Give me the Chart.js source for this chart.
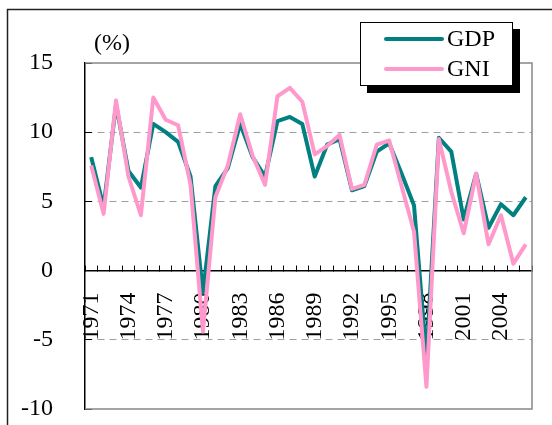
<!DOCTYPE html>
<html>
<head>
<meta charset="utf-8">
<script src="https://cdn.jsdelivr.net/npm/chart.js@4.4.1/dist/chart.umd.min.js"></script>
<style>
  body { margin: 0; background: #fff; }
  canvas { display: block; }
</style>
</head>
<body>
<canvas id="myChart" width="552" height="425"></canvas>
<script>
const years = [
  "1971", "1972", "1973", "1974", "1975", "1976", "1977", "1978", "1979",
  "1980", "1981", "1982", "1983", "1984", "1985", "1986", "1987", "1988",
  "1989", "1990", "1991", "1992", "1993", "1994", "1995", "1996", "1997",
  "1998", "1999", "2000", "2001", "2002", "2003", "2004", "2005", "2006",
];
const gdp = [
  8.2, 4.6, 12.0, 7.2, 6.0, 10.6, 10.0, 9.3, 6.8,
  -1.6, 6.1, 7.4, 10.6, 8.2, 6.8, 10.8, 11.1, 10.6,
  6.8, 9.1, 9.5, 5.8, 6.1, 8.6, 9.2, 7.0, 4.7,
  -6.3, 9.6, 8.6, 3.7, 7.0, 3.1, 4.8, 4.0, 5.3,
];
const gni = [
  7.6, 4.1, 12.3, 6.8, 4.0, 12.5, 10.9, 10.5, 6.2,
  -4.4, 5.3, 7.6, 11.3, 8.3, 6.2, 12.6, 13.2, 12.2,
  8.4, 9.0, 9.8, 5.9, 6.2, 9.1, 9.4, 6.1, 2.8,
  -8.4, 9.5, 5.7, 2.7, 7.0, 1.9, 4.0, 0.5, 1.9,
];
const dashedAt = [10, 5, -5];

const font = "Liberation Serif";
const teal = "#008080";
const pink = "#ff99cc";

const noPad = (s) => {
  s.paddingLeft = 0;
  s.paddingRight = 0;
  s.paddingTop = 0;
  s.paddingBottom = 0;
};

// frame, unit label, plot border and legend box
const decor = {
  id: "decor",
  beforeDatasetsDraw(chart) {
    const { ctx, chartArea: a } = chart;
    ctx.save();
    ctx.strokeStyle = "#222";
    ctx.lineWidth = 1.5;
    ctx.strokeRect(7.5, 9.5, 700, 700);
    ctx.strokeStyle = "#888";
    ctx.beginPath();
    ctx.moveTo(a.left, a.top);
    ctx.lineTo(a.right, a.top);
    ctx.lineTo(a.right, a.bottom);
    ctx.lineTo(a.left, a.bottom);
    ctx.stroke();
    ctx.fillStyle = "#000";
    ctx.font = "24px '" + font + "'";
    ctx.textBaseline = "middle";
    ctx.fillText("(%)", 94, 44);
    ctx.restore();
  },
  afterDraw(chart) {
    const { ctx } = chart;
    ctx.save();
    ctx.fillStyle = "#000";
    ctx.fillRect(367, 29, 153, 64);
    ctx.fillStyle = "#fff";
    ctx.fillRect(360, 22, 153, 64);
    ctx.strokeStyle = "#000";
    ctx.lineWidth = 1;
    ctx.strokeRect(360.5, 22.5, 152, 63);
    ctx.lineWidth = 4;
    ctx.lineCap = "round";
    [[teal, "GDP", 39], [pink, "GNI", 69]].forEach(([c, t, y]) => {
      ctx.strokeStyle = c;
      ctx.beginPath();
      ctx.moveTo(386, y);
      ctx.lineTo(442, y);
      ctx.stroke();
      ctx.fillStyle = "#000";
      ctx.font = "24px '" + font + "'";
      ctx.textBaseline = "middle";
      ctx.fillText(t, 447, y + 1);
    });
    ctx.restore();
  },
};

new Chart(document.getElementById("myChart"), {
  type: "line",
  data: {
    labels: years,
    datasets: [
      {
        label: "GDP",
        data: gdp,
        borderColor: teal,
        borderWidth: 4,
        pointRadius: 0,
        tension: 0,
        borderJoinStyle: "round",
        order: 2,
      },
      {
        label: "GNI",
        data: gni,
        borderColor: pink,
        borderWidth: 4,
        pointRadius: 0,
        tension: 0,
        borderJoinStyle: "round",
        order: 1,
      },
    ],
  },
  options: {
    responsive: false,
    animation: false,
    layout: { padding: { left: 0, top: 63, right: 20, bottom: 16 } },
    plugins: {
      legend: { display: false },
      tooltip: { enabled: false },
    },
    scales: {
      x: {
        position: { y: 0 },
        offset: true,
        afterFit: (s) => {
          s.height = 0;
          noPad(s);
        },
        grid: {
          offset: true,
          drawOnChartArea: false,
          lineWidth: 1,
          tickLength: -6,
          tickColor: "#000",
        },
        border: { color: "#000", width: 1.5 },
        ticks: {
          autoSkip: false,
          maxRotation: 90,
          minRotation: 90,
          padding: 28,
          color: "#000",
          font: { family: font, size: 24 },
          callback: (v, i) => (i % 3 === 0 ? years[i] : ""),
        },
      },
      y: {
        min: -10,
        max: 15,
        afterFit: (s) => {
          s.width = 85;
          noPad(s);
        },
        ticks: {
          stepSize: 5,
          padding: 39,
          color: "#000",
          font: { family: font, size: 24 },
        },
        grid: {
          lineWidth: 1,
          tickLength: -7,
          tickColor: "#000",
          color: (c) => (dashedAt.includes(c.tick.value) ? "#a0a0a0" : "rgba(0,0,0,0)"),
        },
        border: { color: "#000", width: 1.5, dash: [7, 5] },
      },
    },
  },
  plugins: [decor],
});
</script>
</body>
</html>
